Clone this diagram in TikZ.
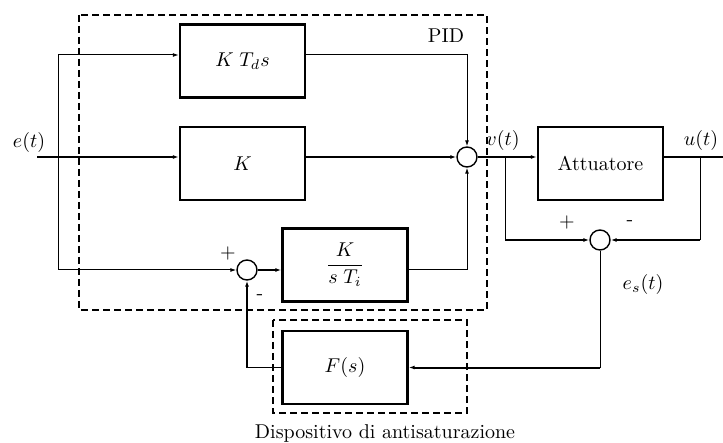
\documentclass[tikz,border=0pt]{standalone}
\usetikzlibrary{arrows.meta}
\tikzset{
  block/.style={
    draw,
    line width=1.2pt,
    minimum width=62.5pt,
    minimum height=36.5pt,
    inner sep=0pt
  },
  sum-node/.style={
    circle,
    draw,
    line width=0.7pt,
    minimum size=10pt,
    inner sep=0pt
  },
  wire/.style={line width=0.5pt},
  heavy/.style={line width=1pt},
  arr/.style={-{Latex[length=3pt,width=2pt]}},
  group-box/.style={dashed, dash pattern=on 3.5pt off 2pt, line width=0.9pt}
}

\begin{document}
\begin{tikzpicture}[x=0.5pt,y=-0.5pt]
  \useasboundingbox (0,0) rectangle (723,443);
  % dashed groups
  \draw[group-box] (79,15) rectangle (487,310);
  \draw[group-box, line width=0.7pt] (273,320) rectangle (467,413);
  \node (pidlab) at (446,36) {PID};
  \node (antilab) at (385,433) {Dispositivo di antisaturazione};
  % blocks
  \node[block] (ktd) at (242.5,61) {$K\;T_d s$};
  \node[block] (kblk) at (242.5,163.5) {$K$};
  \node[block] (ki) at (345,265) {$\displaystyle\frac{K}{s\;T_i}$};
  \node[block] (fs) at (345,367.5) {$F(s)$};
  \node[block] (act) at (600.5,163.5) {Attuatore};
  \node[sum-node] (sum1) at (467,157) {};
  \node[sum-node] (sum2) at (247,270) {};
  \node[sum-node] (sum3) at (600,240) {};
  % branch points
  \coordinate (ein) at (37,157);
  \coordinate (top) at (58,55);
  \coordinate (low) at (58,270);
  \coordinate (vsplit) at (505,157);
  \coordinate (usplit) at (700,157);
  \coordinate (uout) at (723,157);
  % signals
  \draw[heavy,arr] (ein) -- (ein -| kblk.west);
  \draw[wire] (top) -- (low);
  \draw[wire,arr] (top) -- (top -| ktd.west);
  \draw[wire,arr] (low) -- (sum2.west);
  \draw[heavy,arr] (sum2.east) -- (ki.west |- sum2);
  \draw[wire,arr] (top -| ktd.east) -| (sum1.north);
  \draw[heavy,arr] (kblk.east |- ein) -- (sum1.west);
  \draw[wire,arr] (ki.east |- sum2) -| (sum1.south);
  \draw[heavy,arr] (sum1.east) -- (sum1 -| act.west);
  \draw[heavy] (act.east |- sum1) -- (uout);
  \draw[wire] (vsplit) -- (vsplit |- sum3);
  \draw[heavy,arr] (vsplit |- sum3) -- (sum3.west);
  \draw[wire] (usplit) -- (usplit |- sum3);
  \draw[heavy,arr] (usplit |- sum3) -- (sum3.east);
  \draw[wire] (sum3.south) -- (sum3 |- fs);
  \draw[heavy,arr] (sum3 |- fs) -- (fs.east);
  \draw[wire] (fs.west) -- (fs.west -| sum2);
  \draw[heavy,arr] (fs.west -| sum2) -- (sum2.south);
  % labels
  \node (elab) at (29,143) {$e(t)$};
  \node (vlab) at (503,141) {$v(t)$};
  \node (ulab) at (701,141) {$u(t)$};
  \node (eslab) at (643,285) {$e_s(t)$};
  \node (p2) at (228,254) {+};
  \node (m2) at (260,297) {-};
  \node (p3) at (567,223) {+};
  \node (m3) at (630,223) {-};
\end{tikzpicture}
\end{document}
